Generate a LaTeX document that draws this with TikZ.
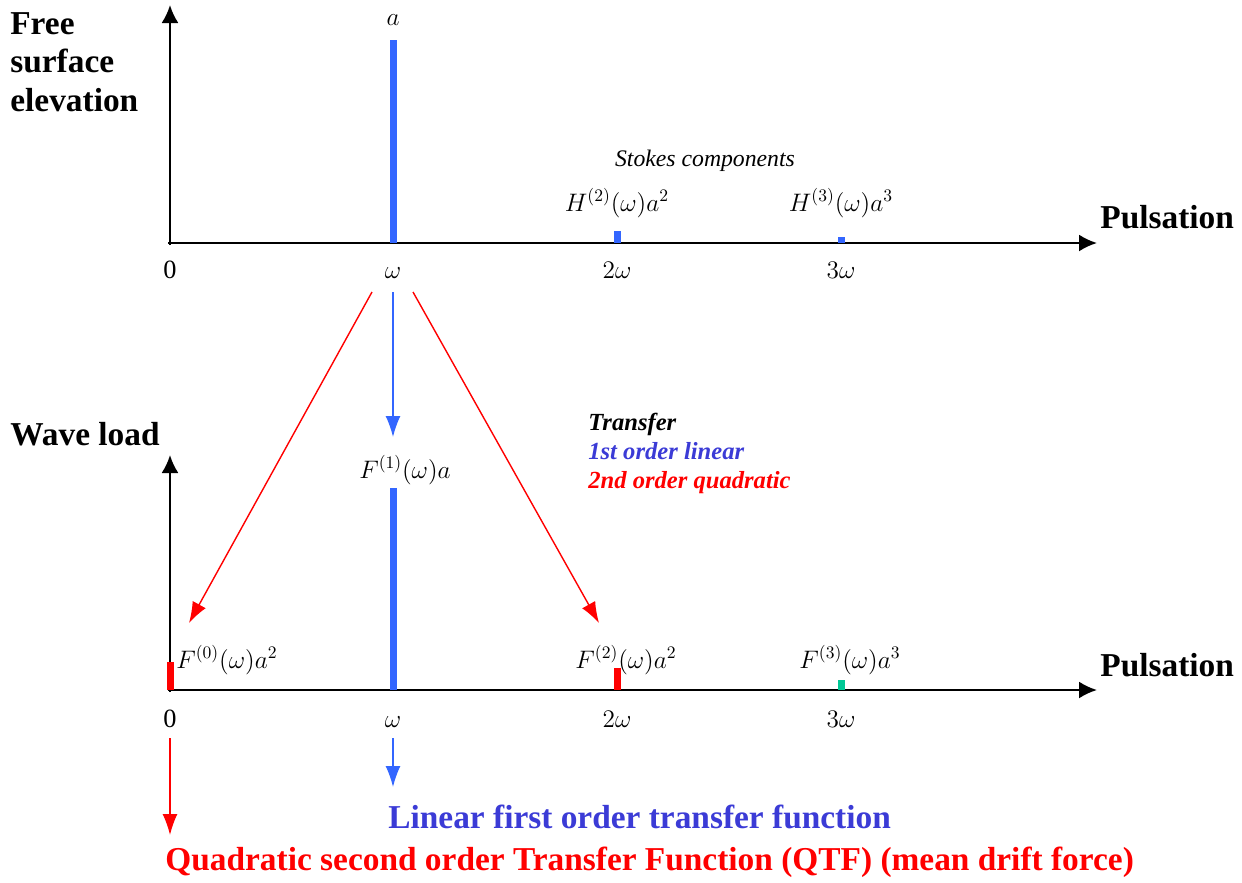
\documentclass[tikz,border=0pt]{standalone}
\usepackage{fontspec}
\setmainfont{Liberation Serif}
\usetikzlibrary{positioning, arrows.meta}
\definecolor{barblue}{HTML}{3366FF}
\definecolor{legblue}{HTML}{3B3BD6}
\definecolor{qred}{HTML}{FF0000}
\definecolor{teal3}{HTML}{00C896}

\begin{document}
\begin{tikzpicture}[x=0.02cm, y=-0.02cm,
    axis/.style={line width=1.3pt, -{Latex[length=3.6mm, width=3.4mm]}},
    arr/.style={line width=0.8pt, -{Latex[length=4.2mm, width=3mm]}},
    bar/.style={line width=0.14cm},
    title/.style={font=\fontsize{19}{22}\selectfont\bfseries, inner sep=0pt},
    tick/.style={font=\fontsize{15}{18}\selectfont, inner sep=0pt, anchor=base},
    amp/.style={font=\fontsize{14}{17}\selectfont, inner sep=0pt, anchor=base},
    legend/.style={font=\fontsize{14}{17}\selectfont\bfseries\itshape, inner sep=0pt, anchor=base west}
]
\useasboundingbox (0,0) rectangle (1242,883);

% Free surface elevation spectrum
\coordinate (o1) at (170,245);
\coordinate (y1) at (170,5);
\coordinate (h1) at (168,243);
\coordinate (x1) at (1097,243);
\draw[axis] (o1) -- (y1);
\draw[axis] (h1) -- (x1);
\node[title, align=left, anchor=north west] (fse) at (10,12) {Free\\surface\\elevation};
\node[title, anchor=base west] (puls1) at (1100,228) {Pulsation};

\draw[bar, barblue] (393,243) -- (393,40);
\draw[bar, barblue] (617,243) -- (617,231);
\draw[bar, barblue] (841,243) -- (841,237);

\node[amp] (amp1) at (393,25) {$a$};
\node[amp, font=\fontsize{13.5}{16}\selectfont\itshape] (stokes) at (705,166) {Stokes components};
\node[amp] (h2) at (617,211) {$H^{(2)}(\omega)a^2$};
\node[amp] (h3) at (841,211) {$H^{(3)}(\omega)a^3$};

\node[tick] (t0a) at (170,278) {0};
\node[tick] (t1a) at (393,278) {$\omega$};
\node[tick] (t2a) at (617,278) {$2\omega$};
\node[tick] (t3a) at (841,278) {$3\omega$};

% Wave load spectrum
\coordinate (o2) at (170,692);
\coordinate (y2) at (170,455);
\coordinate (h2ax) at (168,690);
\coordinate (x2) at (1097,690);
\draw[axis] (o2) -- (y2);
\draw[axis] (h2ax) -- (x2);
\node[title, anchor=base west] (wave) at (10,445) {Wave load};
\node[title, anchor=base west] (puls2) at (1100,676) {Pulsation};

\draw[bar, qred] (170,690) -- (170,662);
\draw[bar, barblue] (393,690) -- (393,488);
\draw[bar, qred] (617,690) -- (617,668);
\draw[bar, teal3] (841,690) -- (841,680);

\node[amp] (f1) at (405,478) {$F^{(1)}(\omega)a$};
\node[amp, anchor=base west] (f0) at (176,668) {$F^{(0)}(\omega)a^2$};
\node[amp] (f2) at (626,668) {$F^{(2)}(\omega)a^2$};
\node[amp] (f3) at (850,668) {$F^{(3)}(\omega)a^3$};

\node[tick] (t0b) at (170,727) {0};
\node[tick] (t1b) at (393,727) {$\omega$};
\node[tick] (t2b) at (617,727) {$2\omega$};
\node[tick] (t3b) at (841,727) {$3\omega$};

% Transfer legend
\node[legend] (tr) at (588,430) {Transfer};
\node[legend, legblue] (tr1) at (588,459) {1st order linear};
\node[legend, qred] (tr2) at (588,488) {2nd order quadratic};

% Transfer arrows
\coordinate (sl) at (372,292);
\coordinate (sm) at (393,292);
\coordinate (sr) at (413,292);
\coordinate (el) at (189,623);
\coordinate (em) at (393,437);
\coordinate (er) at (599,623);
\draw[arr, qred] (sl) -- (el);
\draw[arr, barblue] (sm) -- (em);
\draw[arr, qred] (sr) -- (er);

% Resulting transfer functions
\coordinate (q0) at (170,738);
\coordinate (q1) at (170,835);
\coordinate (l0) at (393,738);
\coordinate (l1) at (393,787);
\draw[arr, qred] (q0) -- (q1);
\draw[arr, barblue] (l0) -- (l1);
\node[title, legblue, anchor=base west] (lin) at (388,828) {Linear first order transfer function};
\node[title, qred, anchor=base west] (qtf) at (165,870) {Quadratic second order Transfer Function (QTF) (mean drift force)};

\end{tikzpicture}
\end{document}
